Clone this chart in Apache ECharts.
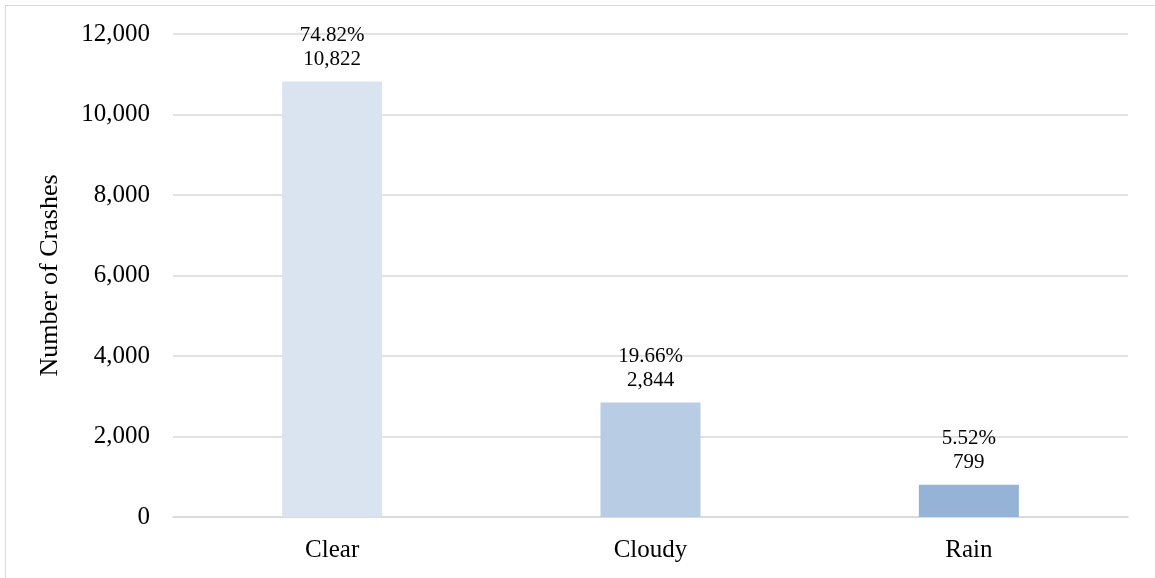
<!DOCTYPE html>
<html>
<head>
<meta charset="utf-8">
<script src="https://cdn.jsdelivr.net/npm/echarts@6/dist/echarts.min.js"></script>
<style>
html,body{margin:0;padding:0;background:#fff;}
#frame{position:absolute;left:5px;top:5px;width:1150px;height:573px;border-left:1px solid #d9d9d9;border-top:1px solid #d9d9d9;box-sizing:border-box;}
#chart{position:absolute;left:0;top:0;width:1155px;height:578px;}
</style>
</head>
<body>
<div id="frame"></div>
<div id="chart"></div>
<script>
var categories = ['Clear', 'Cloudy', 'Rain'];
var crashes = [10822, 2844, 799];
var percents = ['74.82%', '19.66%', '5.52%'];
var barColors = ['#DAE3F0', '#B8CCE4', '#95B3D7'];
var yTicks = [0, 2000, 4000, 6000, 8000, 10000, 12000];

var font = '"Liberation Serif", "Times New Roman", serif';
var chart = echarts.init(document.getElementById('chart'), null, {renderer: 'canvas'});
chart.setOption({
  animation: false,
  grid: {left: 173, right: 27, top: 34, bottom: 61, containLabel: false},
  xAxis: {
    type: 'category',
    data: categories,
    axisLine: {show: true, lineStyle: {color: '#d9d9d9', width: 1.5}},
    axisTick: {show: false},
    axisLabel: {color: '#000', fontFamily: font, fontSize: 25, margin: 21}
  },
  yAxis: {
    type: 'value',
    min: yTicks[0],
    max: yTicks[yTicks.length - 1],
    interval: 2000,
    name: 'Number of Crashes',
    nameLocation: 'middle',
    nameGap: 110,
    nameRotate: 90,
    nameTextStyle: {color: '#000', fontFamily: font, fontSize: 26},
    axisLine: {show: false},
    axisTick: {show: false},
    splitLine: {lineStyle: {color: '#d9d9d9', width: 1.5}},
    axisLabel: {
      color: '#000', fontFamily: font, fontSize: 25, margin: 23,
      formatter: function (v) { return v.toLocaleString('en-US'); }
    }
  },
  series: [{
    type: 'bar',
    barWidth: 100,
    data: crashes.map(function (v, i) {
      return {value: v, itemStyle: {color: barColors[i]}};
    }),
    label: {
      show: true,
      position: 'top',
      distance: 10,
      color: '#000',
      fontFamily: font,
      fontSize: 21,
      lineHeight: 24,
      formatter: function (p) {
        return percents[p.dataIndex] + '\n' + p.value.toLocaleString('en-US');
      }
    }
  }]
});
</script>
</body>
</html>
